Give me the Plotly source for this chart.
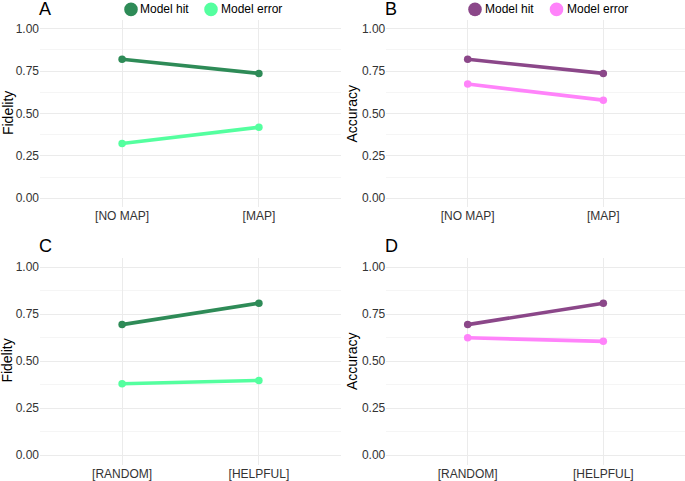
import plotly.graph_objects as go

W, H = 685, 481

# ---------------- data ----------------
conditions_map = ["[NO MAP]", "[MAP]"]
conditions_help = ["[RANDOM]", "[HELPFUL]"]
series_names = ["Model hit", "Model error"]

fidelity_map_hit = [0.820, 0.737]
fidelity_map_error = [0.323, 0.419]
accuracy_map_hit = [0.820, 0.737]
accuracy_map_error = [0.674, 0.579]
fidelity_help_hit = [0.694, 0.808]
fidelity_help_error = [0.380, 0.397]
accuracy_help_hit = [0.694, 0.808]
accuracy_help_error = [0.624, 0.605]

y_tick_vals = [0, 0.25, 0.5, 0.75, 1.0]
y_tick_text = ["0.00", "0.25", "0.50", "0.75", "1.00"]
y_minor_vals = [0.125, 0.375, 0.625, 0.875]

green_colors = ["#2E8B57", "#54FF9F"]
purple_colors = ["#8B4789", "#FF83FA"]

FONT = "Liberation Sans, Arial, Helvetica, sans-serif"

# panel boxes in pixels (left, right, top, bottom)
panels = [
    dict(letter="A", box=(40, 341, 20.5, 208.5), cats=conditions_map,
         series=[fidelity_map_hit, fidelity_map_error], colors=green_colors, ytitle="Fidelity",
         ytitle_x=7.5),
    dict(letter="B", box=(386.3, 684.7, 20.5, 208.5), cats=conditions_map,
         series=[accuracy_map_hit, accuracy_map_error], colors=purple_colors, ytitle="Accuracy",
         ytitle_x=352),
    dict(letter="C", box=(40, 341, 259.8, 468.5), cats=conditions_help,
         series=[fidelity_help_hit, fidelity_help_error], colors=green_colors, ytitle="Fidelity",
         ytitle_x=7.5),
    dict(letter="D", box=(386.3, 684.7, 259.8, 468.5), cats=conditions_help,
         series=[accuracy_help_hit, accuracy_help_error], colors=purple_colors, ytitle="Accuracy",
         ytitle_x=352),
]


def px_x(p):
    return p / W


def px_y(p):
    return 1 - p / H


fig = go.Figure()
layout = {}
annotations = []
shapes = []

for i, pan in enumerate(panels, start=1):
    sx = "" if i == 1 else str(i)
    xa, ya = "x" + sx, "y" + sx
    l, r, t, b = pan["box"]
    for name, vals, col in zip(series_names, pan["series"], pan["colors"]):
        fig.add_trace(go.Scatter(
            x=pan["cats"], y=vals, mode="lines+markers", name=name,
            line=dict(color=col, width=3.6), marker=dict(color=col, size=7.5),
            xaxis=xa, yaxis=ya, showlegend=False, cliponaxis=False))
    layout["xaxis" + sx] = dict(
        domain=[px_x(l), px_x(r)], anchor=ya, type="category",
        categoryorder="array", categoryarray=pan["cats"], range=[-0.6, 1.6],
        showgrid=True, gridcolor="#EBEBEB", gridwidth=1, zeroline=False,
        showline=False, ticks="", tickfont=dict(size=12, color="#333333", family=FONT))
    layout["yaxis" + sx] = dict(
        domain=[px_y(b), px_y(t)], anchor=xa, range=[-0.05, 1.05],
        tickvals=y_tick_vals, ticktext=y_tick_text,
        showgrid=True, gridcolor="#EBEBEB", gridwidth=1, zeroline=False,
        showline=False, ticks="", tickfont=dict(size=12, color="#333333", family=FONT),
        minor=dict(tickvals=y_minor_vals, showgrid=True, gridcolor="#F5F5F5", gridwidth=1))
    # panel letter
    annotations.append(dict(
        text=pan["letter"], xref="paper", yref="paper", x=px_x(l - 3), y=px_y(t - 11.5),
        xanchor="left", yanchor="middle", showarrow=False,
        font=dict(size=18, color="#000000", family=FONT)))
    # y title
    annotations.append(dict(
        text=pan["ytitle"], xref="paper", yref="paper", x=px_x(pan["ytitle_x"]),
        y=px_y((t + b) / 2), xanchor="center", yanchor="middle", textangle=-90,
        showarrow=False, font=dict(size=14, color="#000000", family=FONT)))

# legends (top row only)
legend_specs = [
    (green_colors, [131, 211], [138, 218.5]),
    (purple_colors, [475, 556.5], [482.5, 564.5]),
]
for cols, circ_x, text_x in legend_specs:
    for name, col, cx, tx in zip(series_names, cols, circ_x, text_x):
        shapes.append(dict(
            type="circle", xref="paper", yref="paper", xsizemode="pixel", ysizemode="pixel",
            xanchor=px_x(cx), yanchor=px_y(9.5), x0=-6.8, x1=6.8, y0=-6.8, y1=6.8,
            fillcolor=col, line=dict(width=0)))
        annotations.append(dict(
            text=name, xref="paper", yref="paper", x=px_x(tx), y=px_y(9.5),
            xanchor="left", yanchor="middle", showarrow=False,
            font=dict(size=12, color="#000000", family=FONT)))

fig.update_layout(
    width=W, height=H, margin=dict(l=0, r=0, t=0, b=0),
    paper_bgcolor="white", plot_bgcolor="white",
    font=dict(family=FONT), showlegend=False,
    annotations=annotations, shapes=shapes, **layout)

fig.write_html(
    "out.html",
    config={"displayModeBar": False},
    post_script="document.body.style.margin='0';document.body.style.padding='0';",
)
